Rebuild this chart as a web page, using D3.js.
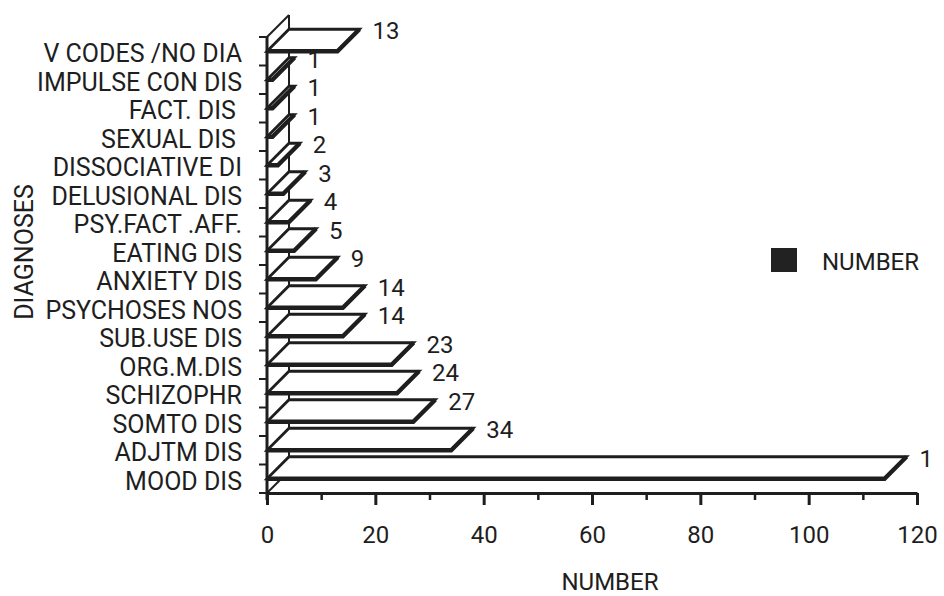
<!DOCTYPE html>
<html>
<head>
<meta charset="utf-8">
<script src="https://cdn.jsdelivr.net/npm/d3@7/dist/d3.min.js"></script>
<style>
  html, body { margin: 0; padding: 0; background: #fff; }
  svg { display: block; }
  text { font-family: Roboto, "Liberation Sans", sans-serif; fill: #1e1e1e; }
</style>
</head>
<body>
<svg id="chart" width="944" height="596"></svg>
<script>
// Diagnoses, bottom row first
const categories = [
  "MOOD DIS", "ADJTM DIS", "SOMTO DIS", "SCHIZOPHR", "ORG.M.DIS",
  "SUB.USE DIS", "PSYCHOSES NOS", "ANXIETY DIS", "EATING DIS",
  "PSY.FACT .AFF.", "DELUSIONAL DIS", "DISSOCIATIVE DI", "SEXUAL DIS ",
  "FACT. DIS ", "IMPULSE CON DIS", "V CODES /NO DIA"
];
const numberValues = [114, 34, 27, 24, 23, 14, 14, 9, 5, 4, 3, 2, 1, 1, 1, 13];
const seriesNames = ["NUMBER"];
const xTickValues = [0, 20, 40, 60, 80, 100, 120];
const xMinorTicks = [10, 30, 50, 70, 90, 110];

const ink = "#1e1e1e";
const depthX = 22, depthY = 22;   // oblique offset of the 3-D back plane

const svg = d3.select("#chart");

const x = d3.scaleLinear().domain([0, 120]).range([267, 917]);
const y = d3.scaleBand().domain(categories).range([493, 37]).padding(0);
const bw = y.bandwidth();
const frontY = d => y(d) + bw / 2;
const backY = d => frontY(d) - depthY;

const x0 = x(0), yBottom = y.range()[0], yTop = y.range()[1];

// back wall and floor edges
const wall = svg.append("g").attr("stroke", ink).attr("fill", "none").attr("stroke-width", 2);
wall.append("line").attr("x1", x0).attr("y1", yTop).attr("x2", x0 + depthX).attr("y2", yTop - depthY);
wall.append("line").attr("x1", x0 + depthX).attr("y1", yTop - depthY).attr("x2", x0 + depthX).attr("y2", yBottom - depthY);
wall.append("line").attr("x1", x0).attr("y1", yBottom).attr("x2", x0 + depthX).attr("y2", yBottom - depthY);

// value labels (drawn beneath the bars); the right-hand one runs off the plot edge
svg.append("defs").append("clipPath").attr("id", "plotClip")
  .append("rect").attr("x", 0).attr("y", 0).attr("width", 934).attr("height", 596);

svg.append("g").attr("clip-path", "url(#plotClip)")
  .selectAll("text").data(categories).join("text")
  .attr("x", (d, i) => x(numberValues[i]) + depthX + 13)
  .attr("y", d => backY(d) + 10)
  .attr("font-size", 24)
  .text((d, i) => numberValues[i]);

// bars as oblique 3-D plates
const bars = svg.append("g");
categories.forEach((c, i) => {
  const x1 = x(numberValues[i]);
  const yf = frontY(c), yb = backY(c);
  bars.append("polygon")
    .attr("points", [[x0, yf], [x1, yf], [x1 + depthX, yb], [x0 + depthX, yb]].map(p => p.join(",")).join(" "))
    .attr("fill", "#fff").attr("stroke", ink).attr("stroke-width", 2.8)
    .attr("stroke-linejoin", "miter");
  bars.append("path")
    .attr("d", `M${x0},${yf}L${x1},${yf}L${x1 + depthX},${yb}`)
    .attr("fill", "none").attr("stroke", ink).attr("stroke-width", 4.4)
    .attr("stroke-linejoin", "miter");
});

// left axis: category labels at band centres
const yAxis = svg.append("g").attr("transform", `translate(${x0},0)`)
  .call(d3.axisLeft(y).tickSize(0).tickPadding(25).tickSizeOuter(0));
yAxis.select(".domain").remove();
yAxis.selectAll("text")
  .attr("font-size", 25).attr("dy", "0.43em")
  .style("white-space", "pre").attr("fill", ink)
  .style("font-family", "Roboto, 'Liberation Sans', sans-serif");

// left axis ticks at band boundaries
const boundaries = categories.map(c => y(c)).concat([yBottom]);
svg.append("g").selectAll("line").data(boundaries).join("line")
  .attr("x1", x0 - 8).attr("x2", x0).attr("y1", d => d).attr("y2", d => d)
  .attr("stroke", ink).attr("stroke-width", 2);
svg.append("line").attr("x1", x0).attr("x2", x0).attr("y1", yTop).attr("y2", yBottom + 7)
  .attr("stroke", ink).attr("stroke-width", 3);

// bottom axis
const xAxis = svg.append("g").attr("transform", `translate(0,${yBottom})`)
  .call(d3.axisBottom(x).tickValues(xTickValues).tickSize(12).tickPadding(21).tickSizeOuter(0));
xAxis.select(".domain").attr("stroke", ink).attr("stroke-width", 3);
xAxis.selectAll(".tick line").attr("stroke", ink).attr("stroke-width", 3);
xAxis.selectAll("text").attr("font-size", 24).attr("fill", ink)
  .style("font-family", "Roboto, 'Liberation Sans', sans-serif");

const xMinor = svg.append("g").attr("transform", `translate(0,${yBottom})`)
  .call(d3.axisBottom(x).tickValues(xMinorTicks).tickSize(7).tickFormat(""));
xMinor.select(".domain").remove();
xMinor.selectAll(".tick line").attr("stroke", ink).attr("stroke-width", 2.5);

// axis titles
svg.append("text").attr("x", 610).attr("y", 590).attr("text-anchor", "middle")
  .attr("font-size", 24).text("NUMBER");
svg.append("text").attr("transform", "translate(33,252) rotate(-90)")
  .attr("text-anchor", "middle").attr("font-size", 25).text("DIAGNOSES");

// legend
const legend = svg.append("g").selectAll("g").data(seriesNames).join("g");
legend.append("rect").attr("x", 771).attr("y", 248).attr("width", 26).attr("height", 24).attr("fill", "#222");
legend.append("text").attr("x", 822).attr("y", 270).attr("font-size", 24).text(d => d);
</script>
</body>
</html>
